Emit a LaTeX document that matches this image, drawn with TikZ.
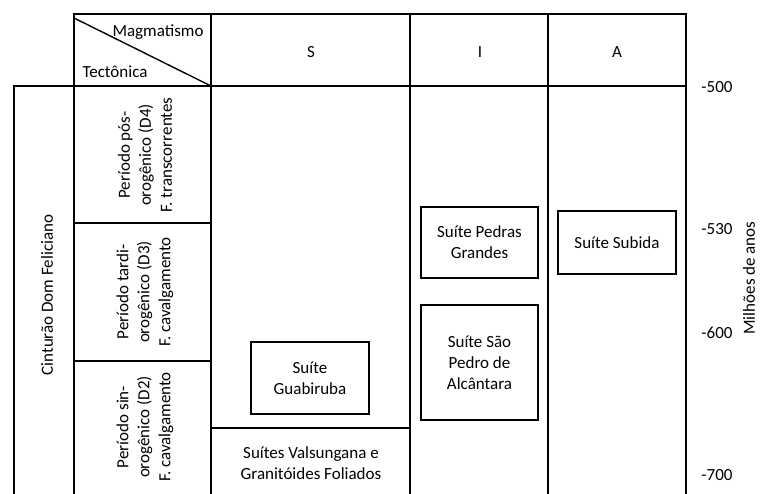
\documentclass[tikz,border=0pt]{standalone}
\usepackage{fontspec}
\setmainfont{Carlito}
\begin{document}
\begin{tikzpicture}[x=1pt,y=-1pt,
  grid/.style={line width=1.4pt,line cap=rect},
  lbl/.style={font=\fontsize{17}{21}\selectfont,align=center,inner sep=0pt},
  suite/.style={lbl,draw,line width=1.4pt,minimum width=#1},
  vtext/.style={lbl,rotate=90}]
\useasboundingbox (0,0) rectangle (760,493);
% table grid
\draw[grid] (74,14) -- (686,14);
\draw[grid] (14,86) -- (686,86);
\draw[grid] (14,86) -- (14,493);
\draw[grid] (74,14) -- (74,493);
\draw[grid] (211,14) -- (211,493);
\draw[grid] (410,14) -- (410,493);
\draw[grid] (548,14) -- (548,493);
\draw[grid] (686,14) -- (686,493);
\draw[grid] (74,223) -- (211,223);
\draw[grid] (74,361) -- (211,361);
\draw[grid] (211,428) -- (410,428);
\draw[line width=1.4pt] (74,18) -- (211,86);
% header
\node[lbl] (mag) at (158,32) {Magmatismo};
\node[lbl] (tec) at (115,72) {Tectônica};
\node[lbl] (s) at (311,52) {S};
\node[lbl] (i) at (480,52) {I};
\node[lbl] (a) at (617,52) {A};
% tectonic column
\node[vtext] (d4) at (145,155) {Período pós-\\orogênico (D4)\\F. transcorrentes};
\node[vtext] (d3) at (145,292) {Período tardi-\\orogênico (D3)\\F. cavalgamento};
\node[vtext] (d2) at (145,427) {Período sin-\\orogênico (D2)\\F. cavalgamento};
\node[vtext] (cdf) at (47,295) {Cinturão Dom Feliciano};
% suites
\node[suite=117pt,minimum height=71pt] (pg) at (479.5,242.5) {Suíte Pedras\\Grandes};
\node[suite=118pt,minimum height=63pt] (sub) at (617,242.5) {Suíte Subida};
\node[suite=117pt,minimum height=115pt] (sp) at (479.5,362.5) {Suíte São\\Pedro de\\Alcântara};
\node[suite=118pt,minimum height=72pt] (gua) at (310,378) {Suíte\\Guabiruba};
\node[lbl] (val) at (311,463) {Suítes Valsungana e\\Granitóides Foliados};
% age scale
\node[lbl] (t500) at (717,87) {-500};
\node[lbl] (t530) at (717,229) {-530};
\node[lbl] (t600) at (717,333) {-600};
\node[lbl] (t700) at (717,475) {-700};
\node[vtext] (ma) at (749,278) {Milhões de anos};
\end{tikzpicture}
\end{document}
